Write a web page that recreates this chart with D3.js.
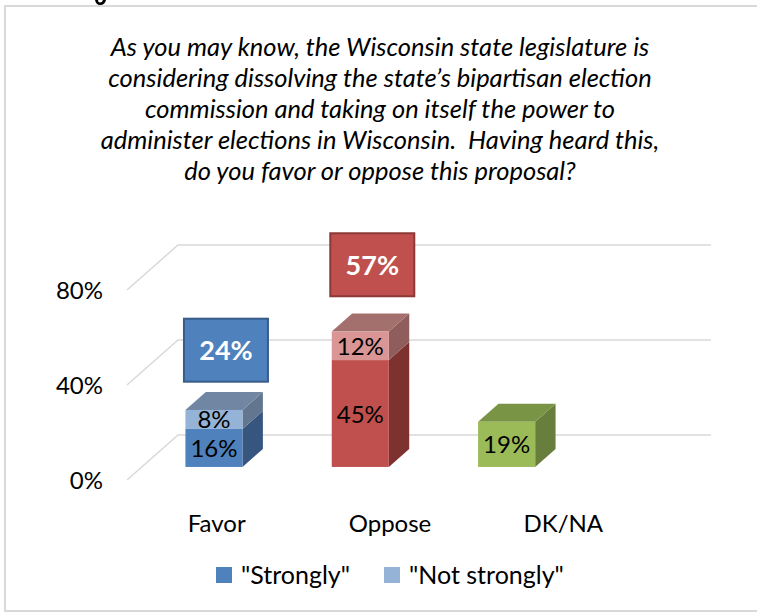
<!DOCTYPE html>
<html>
<head>
<meta charset="utf-8">
<script src="https://cdn.jsdelivr.net/npm/d3@7"></script>
<style>
    body { margin: 0; background: #fff; }
    svg text { font-family: Lato, "Open Sans", sans-serif; }
</style>
</head>
<body>
<div id="chart"></div>
<script>
'use strict';

// Chart data
const titleLines = [
    'As you may know, the Wisconsin state legislature is',
    'considering dissolving the state\u2019s bipartisan election',
    'commission and taking on itself the power to',
    'administer elections in Wisconsin.  Having heard this,',
    'do you favor or oppose this proposal?'
];
const categories = ['Favor', 'Oppose', 'DK/NA'];
const strongly = [16, 45, 19];
const notStrongly = [8, 12, 0];
const totals = [24, 57, null];
const yTicks = [0, 40, 80];
const legendItems = ['"Strongly"', '"Not strongly"'];

// Face colours per category: [front, side, top]
const strongColors = [
    ['#4f81bd', '#36557f', '#6a86ab'],
    ['#c0504d', '#7e3230', '#9b5250'],
    ['#9bbb59', '#687e3c', '#7a9445']
];
const weakColors = [
    ['#95b3d7', '#63768f', '#7186a3'],
    ['#d99694', '#8f5d5c', '#a4706e']
];
const boxColors = [['#4f81bd', '#385d8a'], ['#c0504d', '#8c3836']];
const legendColors = ['#4f81bd', '#95b3d7'];

const width = 757, height = 612;

const svg = d3.select('#chart').append('svg')
    .attr('width', width)
    .attr('height', height);

// Descender of the heading glyph that sits above the chart (cut off in the source)
svg.append('path')
    .attr('d', 'M95,0 Q96,5 100,5 Q105,5 106,0 L103,0 Q102,2.5 100,2.5 Q98,2.5 98,0 Z')
    .attr('fill', '#000');

// Outer frame
svg.append('rect')
    .attr('x', 5).attr('y', 6)
    .attr('width', width + 10).attr('height', height - 7)
    .attr('fill', '#fff')
    .attr('stroke', '#d9d9d9')
    .attr('stroke-width', 2);

// Title
svg.append('g').selectAll('text')
    .data(titleLines)
    .join('text')
    .attr('x', 380)
    .attr('y', (d, i) => 56 + i * 31)
    .attr('text-anchor', 'middle')
    .attr('xml:space', 'preserve')
    .style('white-space', 'pre')
    .style('font-size', '25.5px')
    .style('font-style', 'italic')
    .style('fill', '#000')
    .text(d => d);

// Pseudo-3D projection: depth 0 = front plane, 1 = back wall
const depthX = 51, depthY = -45;
const barFront = 0.29, barBack = 0.69;

const y = d3.scaleLinear().domain([0, 80]).range([480, 290]);
const x = d3.scaleBand().domain(categories).range([126, 565])
    .paddingInner(0.61).paddingOuter(0.305);
const xLabel = d3.scalePoint().domain(categories).range([130, 650]).padding(0.5);

const wallRight = 711;

// Gridlines: diagonal on the side, horizontal on the back wall
const grid = svg.append('g').attr('stroke', '#d9d9d9').attr('stroke-width', 1.5).attr('fill', 'none');
grid.selectAll('path')
    .data(yTicks)
    .join('path')
    .attr('d', v => `M${127},${y(v)} L${127 + depthX},${y(v) + depthY} L${wallRight},${y(v) + depthY}`);

// Y axis labels
svg.append('g').selectAll('text')
    .data(yTicks)
    .join('text')
    .attr('x', 103)
    .attr('y', v => y(v) + 9)
    .attr('text-anchor', 'end')
    .style('font-size', '24px')
    .text(v => `${v}%`);

// Build segments
let segments = [];
categories.forEach((c, i) => {
    segments.push({ cat: c, v0: 0, v1: strongly[i], colors: strongColors[i], top: !notStrongly[i] });
    if (notStrongly[i]) {
        segments.push({ cat: c, v0: strongly[i], v1: strongly[i] + notStrongly[i], colors: weakColors[i], top: true });
    }
});

const fx = barFront * depthX, fy = barFront * depthY;
const ddx = (barBack - barFront) * depthX, ddy = (barBack - barFront) * depthY;
const bw = x.bandwidth();

const bars = svg.append('g');
const seg = bars.selectAll('g.seg')
    .data(segments)
    .join('g')
    .classed('seg', true);

// Side face
seg.append('path')
    .attr('fill', d => d.colors[1])
    .attr('d', d => {
        let x1 = x(d.cat) + fx + bw;
        let yt = y(d.v1) + fy, yb = y(d.v0) + fy;
        return `M${x1},${yt} L${x1 + ddx},${yt + ddy} L${x1 + ddx},${yb + ddy} L${x1},${yb} Z`;
    });

// Top face
seg.filter(d => d.top).append('path')
    .attr('fill', d => d.colors[2])
    .attr('d', d => {
        let x0 = x(d.cat) + fx;
        let yt = y(d.v1) + fy;
        return `M${x0},${yt} L${x0 + ddx},${yt + ddy} L${x0 + bw + ddx},${yt + ddy} L${x0 + bw},${yt} Z`;
    });

// Front face
seg.append('rect')
    .attr('x', d => x(d.cat) + fx)
    .attr('y', d => y(d.v1) + fy)
    .attr('width', bw)
    .attr('height', d => y(d.v0) - y(d.v1))
    .attr('fill', d => d.colors[0]);

// Segment value labels
seg.append('text')
    .attr('x', d => x(d.cat) + fx + bw / 2)
    .attr('y', d => (y(d.v0) + y(d.v1)) / 2 + fy + 9)
    .attr('text-anchor', 'middle')
    .style('font-size', '24px')
    .style('fill', '#000')
    .text(d => `${d.v1 - d.v0}%`);

// Total boxes
const totalData = categories.map((c, i) => ({ cat: c, total: totals[i], colors: boxColors[i] }))
    .filter(d => d.total != null);

const boxW = 84, boxH = 63;
const boxes = svg.append('g').selectAll('g')
    .data(totalData)
    .join('g')
    .attr('transform', d => {
        let cx = x(d.cat) + fx + bw / 2 + 12;
        let cy = y(d.total * 1.09 + 23) + fy;
        return `translate(${cx}, ${cy})`;
    });

boxes.append('rect')
    .attr('x', -boxW / 2).attr('y', -boxH / 2)
    .attr('width', boxW).attr('height', boxH)
    .attr('fill', d => d.colors[0])
    .attr('stroke', d => d.colors[1])
    .attr('stroke-width', 2);

boxes.append('text')
    .attr('text-anchor', 'middle')
    .attr('dy', 10)
    .style('font-size', '27px')
    .style('font-weight', 'bold')
    .style('fill', '#fff')
    .text(d => `${d.total}%`);

// Category labels
svg.append('g').selectAll('text')
    .data(categories)
    .join('text')
    .attr('x', c => xLabel(c))
    .attr('y', 532)
    .attr('text-anchor', 'middle')
    .style('font-size', '24px')
    .text(c => c);

// Legend
const legendX = [216, 384];
const legend = svg.append('g').selectAll('g')
    .data(legendItems)
    .join('g')
    .attr('transform', (d, i) => `translate(${legendX[i]}, 567)`);

legend.append('rect')
    .attr('width', 16).attr('height', 16)
    .attr('fill', (d, i) => legendColors[i]);

legend.append('text')
    .attr('x', 25)
    .attr('y', 17)
    .style('font-size', '25px')
    .text(d => d);
</script>
</body>
</html>
